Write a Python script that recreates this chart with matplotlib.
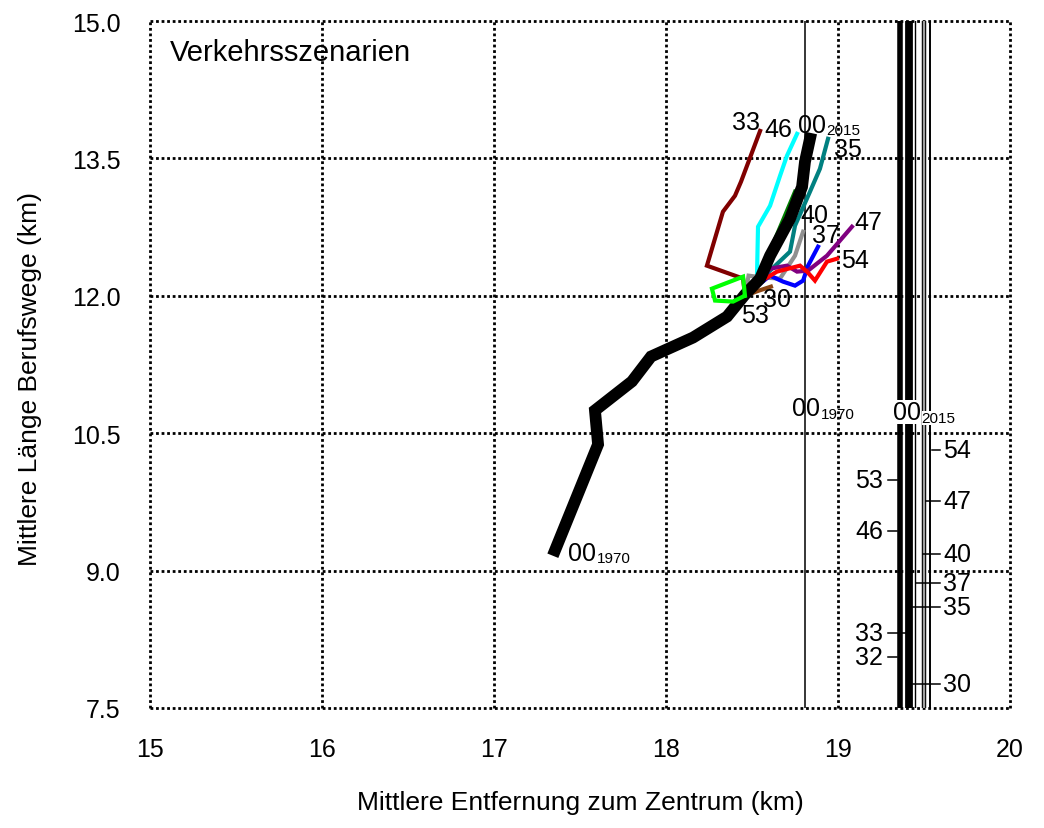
import matplotlib.pyplot as plt

plt.rcParams['font.family'] = ['Liberation Sans', 'DejaVu Sans']

# Szenario 00: Entwicklung 1970 - 2015
base_x = [17.355, 17.605, 17.587, 17.802, 17.913, 18.157, 18.355, 18.459,
          18.547, 18.605, 18.721, 18.791, 18.808, 18.837]
base_y = [9.222, 10.378, 10.749, 11.065, 11.337, 11.544, 11.773, 12.013,
          12.187, 12.438, 12.841, 13.190, 13.463, 13.714]

# Szenarien ab dem gemeinsamen Startpunkt
s33_x = [18.46, 18.448, 18.238, 18.331, 18.401, 18.436, 18.547]
s33_y = [12.00, 12.188, 12.329, 12.918, 13.092, 13.245, 13.800]
s46_x = [18.46, 18.529, 18.535, 18.605, 18.663, 18.703, 18.762]
s46_y = [12.00, 12.220, 12.754, 12.983, 13.310, 13.528, 13.768]
s35_x = [18.46, 18.605, 18.721, 18.750, 18.837, 18.895, 18.942]
s35_y = [12.00, 12.275, 12.482, 12.765, 13.136, 13.387, 13.714]
s32_x = [18.46, 18.56, 18.63, 18.750]
s32_y = [12.00, 12.22, 12.60, 13.136]
s40_x = [18.46, 18.48, 18.56, 18.663, 18.750, 18.797]
s40_y = [12.00, 12.22, 12.20, 12.188, 12.438, 12.700]
s37_x = [18.46, 18.605, 18.680, 18.750, 18.797, 18.826, 18.884]
s37_y = [12.00, 12.220, 12.155, 12.111, 12.166, 12.329, 12.536]
s47_x = [18.46, 18.605, 18.703, 18.762, 18.826, 18.936, 19.081]
s47_y = [12.00, 12.296, 12.329, 12.264, 12.275, 12.438, 12.754]
s54_x = [18.46, 18.558, 18.645, 18.779, 18.820, 18.866, 18.936, 18.994]
s54_y = [12.00, 12.166, 12.264, 12.329, 12.264, 12.166, 12.373, 12.405]
s30_x = [18.46, 18.53, 18.61]
s30_y = [12.00, 12.05, 12.10]
s53_x = [18.459, 18.448, 18.267, 18.285, 18.390, 18.452]
s53_y = [12.002, 12.209, 12.078, 11.948, 11.937, 11.995]

# Vergleichslinien und Skala rechts
ref_x = 18.808
scale_x = [19.3605, 19.4116, 19.4459, 19.4988, 19.5366]
left_names = ['53', '46', '33', '32']
left_y = [9.99, 9.43, 8.32, 8.06]
right_names = ['54', '47', '40', '37', '35', '30']
right_y = [10.32, 9.76, 9.18, 8.86, 8.60, 7.76]

xticks = [15, 16, 17, 18, 19, 20]
yticks = [7.5, 9.0, 10.5, 12.0, 13.5, 15.0]

fig = plt.figure(figsize=(10.44, 8.29), dpi=100)
ax = fig.add_axes([150 / 1044, 120 / 829, 860 / 1044, 687 / 829])

# gepunktetes Gitter inkl. Rahmen
dot = (0, (1, 1))
for s in ax.spines.values():
    s.set_visible(False)
for x in xticks:
    ax.axvline(x, color='black', linestyle=dot, lw=2.0, zorder=1, clip_on=False)
for y in yticks:
    ax.axhline(y, color='black', linestyle=dot, lw=2.0, zorder=1, clip_on=False)

scen = [(s33_x, s33_y, '#800000'), (s46_x, s46_y, '#00ffff'),
        (s35_x, s35_y, '#008080'), (s32_x, s32_y, '#008000'),
        (s40_x, s40_y, '#909090'), (s37_x, s37_y, '#0000ff'),
        (s47_x, s47_y, '#800080'), (s54_x, s54_y, '#ff0000'),
        (s30_x, s30_y, '#8b4513')]
for xs, ys, c in scen:
    ax.plot(xs, ys, color=c, lw=3, solid_joinstyle='miter', zorder=3)
ax.plot(base_x, base_y, color='black', lw=8.5, solid_joinstyle='miter', zorder=4)
ax.plot(s53_x, s53_y, color='#00ff00', lw=3, solid_joinstyle='miter', zorder=5)

# vertikale Linien
ax.axvline(ref_x, color='black', lw=1.1, zorder=2)
ax.axvline(scale_x[0], color='black', lw=4.0, zorder=2)
ax.axvline(scale_x[1], color='black', lw=5.6, zorder=2)
ax.axvline(scale_x[2], color='black', lw=1.0, zorder=2)
ax.axvline(scale_x[3], color='black', lw=3.2, zorder=2)
ax.axvline(scale_x[3], color='#a0a0a0', lw=1.6, zorder=2)
ax.axvline(scale_x[4], color='black', lw=1.4, zorder=2)

left_x0 = [19.29, 19.29, 19.29, 19.29]
left_x1 = [19.343, 19.343, 19.401, 19.343]
for n, y, a, b in zip(left_names, left_y, left_x0, left_x1):
    ax.plot([a, b], [y, y], color='black', lw=1.1, zorder=3)
    ax.text(19.262, y, n, ha='right', va='center', fontsize=18)
right_x0 = [19.547, 19.512, 19.494, 19.453, 19.436, 19.436]
for n, y, a in zip(right_names, right_y, right_x0):
    ax.plot([a, 19.593], [y, y], color='black', lw=1.1, zorder=3)
    ax.text(19.612, y, n, ha='left', va='center', fontsize=18)

# Beschriftungen der Szenarien
labels = {'33': (18.468, 13.823), '46': (18.651, 13.746), '35': (19.060, 13.525),
          '40': (18.860, 12.809), '37': (18.930, 12.591), '47': (19.177, 12.733),
          '54': (19.096, 12.318), '30': (18.648, 11.893), '53': (18.517, 11.719)}
for n, (x, y) in labels.items():
    ax.text(x, y, n, ha='center', va='baseline', fontsize=18, zorder=6)


def year_label(x, y, year, box=False):
    kw = dict(bbox=dict(fc='white', ec='none', pad=0)) if box else {}
    t = ax.text(x, y, '00', ha='left', va='baseline', fontsize=18, zorder=6, **kw)
    ax.annotate(year, xy=(1, 0), xycoords=t, xytext=(0.5, 2),
                textcoords='offset points', ha='left', va='baseline',
                fontsize=11, zorder=6, **kw)


year_label(17.430, 9.113, '1970')
year_label(18.767, 13.79, '2015')
year_label(18.733, 10.694, '1970')
year_label(19.320, 10.65, '2015', box=True)

ax.text(0.023, 0.975, 'Verkehrsszenarien', transform=ax.transAxes,
        ha='left', va='top', fontsize=21)

ax.set_xlim(15, 20)
ax.set_ylim(7.5, 15)
ax.set_xticks(xticks)
ax.set_xticklabels(['15', '16', '17', '18', '19', '20'])
ax.set_yticks(yticks)
ax.set_yticklabels(['7.5', '9.0', '10.5', '12.0', '13.5', '15.0'])
ax.tick_params(length=0, labelsize=18, pad=21)
ax.set_xlabel('Mittlere Entfernung zum Zentrum (km)', fontsize=19)
ax.set_ylabel('Mittlere Länge Berufswege (km)', fontsize=19)
ax.xaxis.set_label_coords(0.5, -0.12)
ax.yaxis.set_label_coords(-0.125, 0.48)

fig.savefig('out.png', dpi=100)
